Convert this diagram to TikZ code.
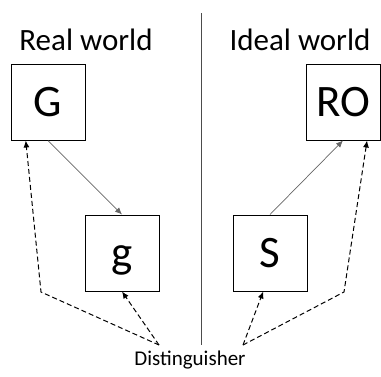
\documentclass[tikz,border=0pt]{standalone}
\usepackage{fontspec}
\setmainfont{Carlito}
\usetikzlibrary{arrows.meta}
\begin{document}
\begin{tikzpicture}[x=1pt, y=-1pt,
    box/.style={draw, line width=1pt, minimum width=74pt, minimum height=76pt,
        inner sep=0pt, text height=29pt, text depth=0pt,
        font=\fontsize{45}{50}\selectfont},
    title/.style={font=\fontsize{31}{36}\selectfont},
    oracle/.style={draw=black!60, line width=0.7pt, -{Latex[length=7pt,width=6pt]}},
    query/.style={draw, line width=1pt, dash pattern=on 5pt off 3pt,
        -{Latex[length=7pt,width=6pt]}}]
    \useasboundingbox (0,0) rectangle (381,376);

    % the two worlds
    \node[title] (real) at (86,40) {Real world};
    \node[title] (ideal) at (300,40) {Ideal world};
    \coordinate (divtop) at (201,13);
    \coordinate (divbot) at (201,345);
    \draw[black!70, line width=0.8pt] (divtop) -- (divbot);

    % boxes
    \node[box] (G) at (48,102) {G};
    \node[box] (g) at (122,253) {g};
    \node[box] (RO) at (343,102) {RO};
    \node[box] (S) at (270,253) {S};

    \draw[oracle] (G.south) -- (g.north);
    \draw[oracle] (S.north) -- (RO.south);

    % the distinguisher queries both sides
    \node[font=\fontsize{21}{26}\selectfont] (dist) at (190,360) {Distinguisher};
    \coordinate (dl) at (159,345);
    \coordinate (dr) at (243,345);
    \coordinate (kl) at (41,292);
    \coordinate (kr) at (344,292);
    \draw[query] (dl) -- (kl) -- (G.240);
    \draw[query] (dl) -- (g.south);
    \draw[query] (dr) -- (S.260);
    \draw[query] (dr) -- (kr) -- (RO.302);
\end{tikzpicture}
\end{document}
